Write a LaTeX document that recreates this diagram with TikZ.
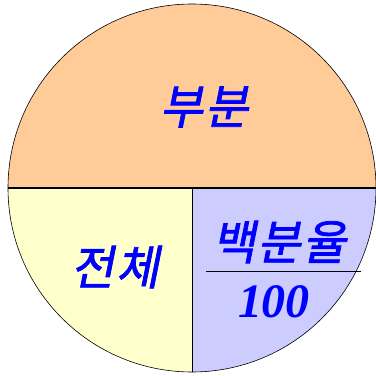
\documentclass[tikz,border=0pt]{standalone}
\usepackage{fontspec}
\usepackage{tikz}
\usetikzlibrary{calc}
\newfontfamily\kofont[FakeSlant=0.2,FakeBold=1.6,LetterSpace=4]{Noto Sans CJK KR}
\newfontfamily\numfont{Liberation Serif}
\definecolor{partfill}{HTML}{FFCC99}
\definecolor{wholefill}{HTML}{FFFFCC}
\definecolor{ratefill}{HTML}{CCCCFF}
\definecolor{labelblue}{HTML}{0000FF}

\begin{document}
\begin{tikzpicture}[x=1pt, y=1pt]
  \useasboundingbox (0,0) rectangle (376,376);
  \coordinate (c) at (192,188);
  % upper half: part
  \fill[partfill] (8,188) arc[start angle=180, end angle=0, radius=184] -- cycle;
  % lower left: whole
  \fill[wholefill] (c) -- (8,188) arc[start angle=180, end angle=270, radius=184] -- cycle;
  % lower right: percentage
  \fill[ratefill] (c) -- (192,4) arc[start angle=270, end angle=360, radius=184] -- cycle;
  \draw[line width=0.6pt] (c) circle[radius=184];
  \draw[line width=1.2pt] (8,188) -- (376,188);
  \draw[line width=0.8pt] (c) -- (192,4);
  \coordinate (fracL) at (206,105);
  \coordinate (fracR) at (361,105);
  \draw[line width=0.6pt] (fracL) -- (fracR);
  \node[font=\kofont\fontsize{47}{47}\selectfont, text=labelblue] (part) at (204,269) {부분};
  \node[font=\kofont\fontsize{47}{47}\selectfont, text=labelblue] (whole) at (115,109) {전체};
  \node[font=\kofont\fontsize{47}{47}\selectfont, text=labelblue] (rate) at (279,134) {백분율};
  \node[font=\numfont\bfseries\itshape\fontsize{48}{48}\selectfont, text=labelblue] (hundred) at (274,74) {100};
\end{tikzpicture}
\end{document}
